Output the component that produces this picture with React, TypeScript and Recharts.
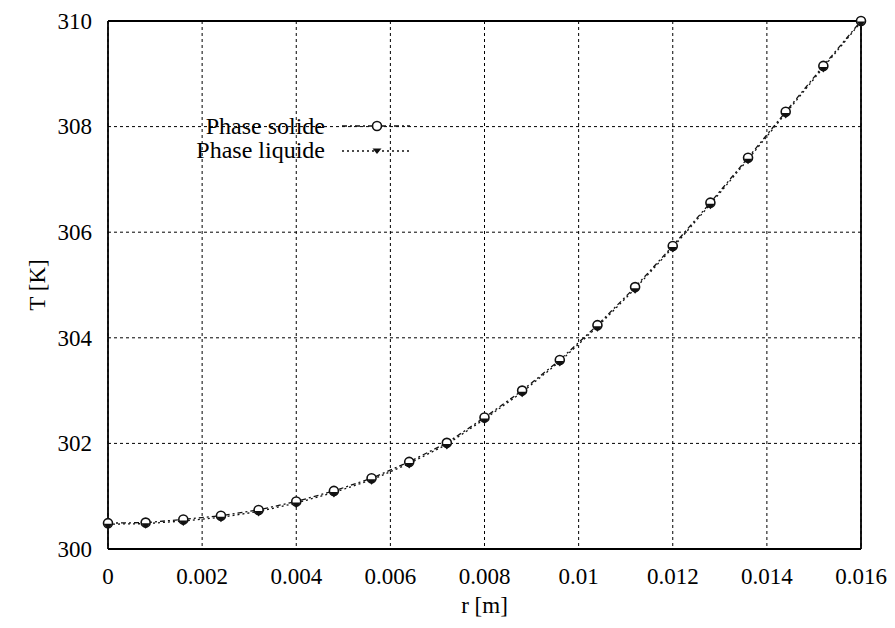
import React from 'react';
import { LineChart, Line, XAxis, YAxis, CartesianGrid, Legend } from 'recharts';

const radius = [0, 0.0008, 0.0016, 0.0024, 0.0032, 0.004, 0.0048, 0.0056, 0.0064, 0.0072, 0.008,
    0.0088, 0.0096, 0.0104, 0.0112, 0.012, 0.0128, 0.0136, 0.0144, 0.0152, 0.016];
const solide = [300.49, 300.5, 300.56, 300.63, 300.74, 300.9, 301.1, 301.34, 301.65, 302.01, 302.49,
    303.0, 303.58, 304.24, 304.96, 305.74, 306.56, 307.41, 308.28, 309.15, 310.0];
const liquide = [300.47, 300.48, 300.53, 300.6, 300.71, 300.87, 301.07, 301.31, 301.62, 301.98, 302.46,
    302.97, 303.55, 304.21, 304.93, 305.71, 306.53, 307.38, 308.25, 309.12, 309.98];
const xTicks = [0, 0.002, 0.004, 0.006, 0.008, 0.01, 0.012, 0.014, 0.016];
const yTicks = [300, 302, 304, 306, 308, 310];

const data = radius.map((r, i) => ({ r, solide: solide[i], liquide: liquide[i] }));

const FONT = '"Liberation Serif", "Times New Roman", serif';
const INK = '#111';

// eslint-disable-next-line @typescript-eslint/no-explicit-any
function OpenCircle(props: any) {
    const { cx, cy } = props;
    if (cx == null || cy == null) return null;
    return <circle cx={cx} cy={cy} r={4.5} fill="#fff" stroke={INK} strokeWidth={1.6} />;
}

// eslint-disable-next-line @typescript-eslint/no-explicit-any
function DownTriangle(props: any) {
    const { cx, cy } = props;
    if (cx == null || cy == null) return null;
    return <path d={`M${cx - 4.5},${cy - 0.5} L${cx + 4.5},${cy - 0.5} L${cx},${cy + 5} Z`} fill={INK} />;
}

function LegendBox() {
    return (
        <svg width={230} height={52} style={{ display: 'block', overflow: 'visible' }}>
            <g fontFamily={FONT} fontSize={24} fill="#000">
                <text x={130} y={22} textAnchor="end">Phase solide</text>
                <text x={130} y={46} textAnchor="end">Phase liquide</text>
            </g>
            <line x1={147} y1={14} x2={215} y2={14} stroke={INK} strokeWidth={1.3} strokeDasharray="5 3 2 3" />
            <OpenCircle cx={182} cy={14} />
            <line x1={147} y1={39} x2={215} y2={39} stroke={INK} strokeWidth={1.3} strokeDasharray="2 3" />
            <DownTriangle cx={182} cy={37} />
        </svg>
    );
}

// eslint-disable-next-line @typescript-eslint/no-explicit-any
function XTick({ x, y, payload }: any) {
    return (
        <text x={x} y={y + 17} dy="0.71em" textAnchor="middle" fontFamily={FONT} fontSize={23} fill="#000">
            {String(+Number(payload.value).toFixed(3))}
        </text>
    );
}

// eslint-disable-next-line @typescript-eslint/no-explicit-any
function YTick({ x, y, payload }: any) {
    return (
        <text x={x - 14} y={y} dy="0.34em" textAnchor="end" fontFamily={FONT} fontSize={23} fill="#000">
            {payload.value}
        </text>
    );
}

// eslint-disable-next-line @typescript-eslint/no-explicit-any
function XLabel({ viewBox }: any) {
    const cx = viewBox.x + viewBox.width / 2;
    return (
        <text x={cx} y={613} textAnchor="middle" fontFamily={FONT} fontSize={23} fill="#000">
            r [m]
        </text>
    );
}

// eslint-disable-next-line @typescript-eslint/no-explicit-any
function YLabel({ viewBox }: any) {
    const cx = 37;
    const cy = viewBox.y + viewBox.height / 2;
    return (
        <text x={cx} y={cy} transform={`rotate(-90, ${cx}, ${cy})`} textAnchor="middle"
            dominantBaseline="central" fontFamily={FONT} fontSize={23} fill="#000">
            T [K]
        </text>
    );
}

export default function App() {
    return (
        <div style={{ position: 'absolute', left: 0, top: 0, width: 895, height: 628, background: '#fff', fontFamily: FONT }}>
            <LineChart width={895} height={628} data={data} margin={{ top: 0, right: 0, bottom: 0, left: 0 }}>
                <CartesianGrid stroke="#000" strokeDasharray="3 3" strokeWidth={1} />
                <XAxis
                    dataKey="r"
                    type="number"
                    domain={[0, 0.016]}
                    ticks={xTicks}
                    height={79}
                    tickSize={0}
                    tickLine={false}
                    axisLine={{ stroke: '#000', strokeWidth: 1.8 }}
                    tick={<XTick />}
                    label={<XLabel />}
                />
                <XAxis
                    xAxisId="top"
                    orientation="top"
                    type="number"
                    domain={[0, 0.016]}
                    ticks={xTicks}
                    height={21}
                    tick={false}
                    tickLine={false}
                    axisLine={{ stroke: '#000', strokeWidth: 1.8 }}
                />
                <YAxis
                    type="number"
                    domain={[300, 310]}
                    ticks={yTicks}
                    width={108}
                    tickSize={0}
                    tickLine={false}
                    axisLine={{ stroke: '#000', strokeWidth: 1.8 }}
                    tick={<YTick />}
                    label={<YLabel />}
                />
                <YAxis
                    yAxisId="right"
                    orientation="right"
                    type="number"
                    domain={[300, 310]}
                    ticks={yTicks}
                    width={34}
                    tick={false}
                    tickSize={-7}
                    tickLine={{ stroke: '#000', strokeWidth: 1.5 }}
                    axisLine={{ stroke: '#000', strokeWidth: 1.8 }}
                />
                <Legend
                    layout="horizontal"
                    verticalAlign="middle"
                    align="center"
                    wrapperStyle={{ left: 195, top: 112, width: 230, height: 52 }}
                    content={<LegendBox />}
                />
                <Line
                    dataKey="solide"
                    name="Phase solide"
                    stroke={INK}
                    strokeWidth={1.3}
                    strokeDasharray="5 3 2 3"
                    dot={<OpenCircle />}
                    activeDot={false}
                    isAnimationActive={false}
                />
                <Line
                    dataKey="liquide"
                    name="Phase liquide"
                    stroke={INK}
                    strokeWidth={1.3}
                    strokeDasharray="2 3"
                    dot={<DownTriangle />}
                    activeDot={false}
                    isAnimationActive={false}
                />
            </LineChart>
        </div>
    );
}
